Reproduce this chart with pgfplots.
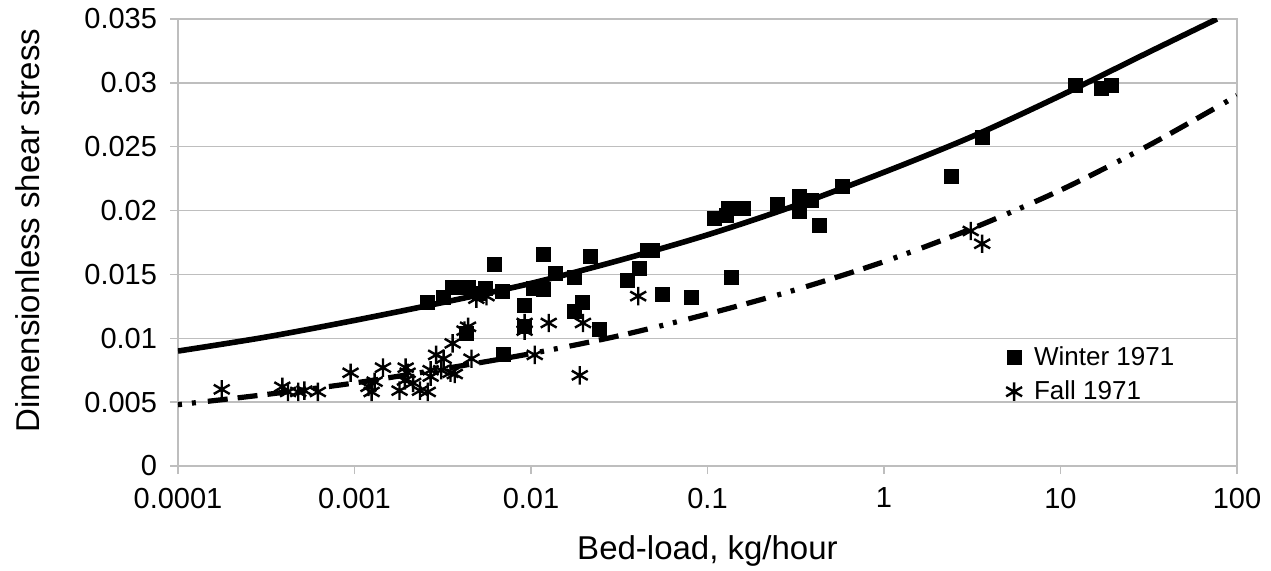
\documentclass[border=0pt]{standalone}
\usepackage{fontspec}
\setmainfont{Liberation Sans}
\usepackage{pgfplots}
\pgfplotsset{compat=1.18}
\definecolor{gridgray}{HTML}{BEBEBE}

\begin{document}
\begin{tikzpicture}
\begin{axis}[
    name=ax,
    scale only axis,
    width=529.5bp, height=223.5bp,
    xmode=log, xmin=1e-4, xmax=100,
    ymin=0, ymax=0.035,
    xtick={1e-4,1e-3,1e-2,1e-1,1,10,100},
    xticklabels={0.0001,0.001,0.01,0.1,1,10,100},
    xminorticks=false,
    ytick={0,0.005,0.01,0.015,0.02,0.025,0.03,0.035},
    yticklabels={0,0.005,0.01,0.015,0.02,0.025,0.03,0.035},
    scaled y ticks=false,
    xtick pos=lower, ytick pos=left,
    tick align=outside, major tick length=4bp,
    ymajorgrids,
    grid style={gridgray, line width=0.7bp},
    axis line style={gridgray, line width=0.7bp},
    tick style={gridgray, line width=0.7bp},
    tick label style={font=\fontsize{14.5bp}{17bp}\selectfont},
    xticklabel style={yshift=-3.5bp},
    yticklabel style={xshift=-3bp},
    label style={font=\fontsize{16.5bp}{19bp}\selectfont},
    xlabel={Bed-load, kg/hour},
    ylabel={Dimensionless shear stress},
    xlabel style={at={(axis description cs:0.5,-0.19)}, anchor=center},
    ylabel style={at={(axis description cs:-0.1416,0.527)}, anchor=center},
    legend style={at={(0.776,0.285)}, anchor=north west, draw=none, fill=none,
        font=\fontsize{13bp}{16bp}\selectfont, row sep=2bp,
        /tikz/every odd column/.append style={column sep=4bp}},
    legend cell align=left,
]
% fitted curves
\addplot[black, line width=2.8bp, smooth, forget plot] coordinates {
  (1e-4,0.0090) (3.16e-4,0.0101) (1e-3,0.0114) (3.16e-3,0.0128)
  (1e-2,0.0143) (3.16e-2,0.0161) (1e-1,0.0181) (3.16e-1,0.0204)
  (1,0.0230) (3.16,0.0258) (10,0.0290) (31.6,0.0324) (77,0.0350)
};
\addplot[black, line width=2.6bp, smooth, line cap=butt, forget plot,
  dash pattern=on 2bp off 5bp on 2bp off 6bp on 10bp off 5bp on 10bp off 5bp on 10bp off 6bp] coordinates {
  (1e-4,0.0048) (3.16e-4,0.0056) (1e-3,0.0065) (3.16e-3,0.0076)
  (1e-2,0.0088) (3.16e-2,0.0102) (1e-1,0.0119) (3.16e-1,0.0138)
  (1,0.0160) (3.16,0.0186) (10,0.0216) (31.6,0.0251) (100,0.0290)
};
% Winter 1971
\addplot[only marks, mark=square*, mark size=3.5bp, black] coordinates {
  (0.0026,0.0128) (0.0032,0.0132) (0.0036,0.0140) (0.0041,0.0140)
  (0.0044,0.0140) (0.0043,0.0104) (0.0051,0.0135) (0.0055,0.0139)
  (0.0062,0.0158) (0.0069,0.0137) (0.0070,0.0087) (0.0092,0.0126)
  (0.0092,0.0109) (0.0103,0.0139) (0.0117,0.0138) (0.0118,0.0166)
  (0.0137,0.0151) (0.0177,0.0148) (0.0177,0.0121) (0.0196,0.0128)
  (0.0218,0.0164) (0.0245,0.0107) (0.035,0.0145) (0.0414,0.0155)
  (0.0459,0.0169) (0.049,0.0169) (0.0555,0.0134) (0.0815,0.0132)
  (0.110,0.0194) (0.128,0.0196) (0.131,0.0202) (0.137,0.0148)
  (0.159,0.0202) (0.25,0.0205) (0.33,0.0211) (0.33,0.0199)
  (0.39,0.0208) (0.43,0.0188) (0.58,0.0219) (2.40,0.0227)
  (3.6,0.0257) (12.2,0.0298) (17.0,0.0296) (19.5,0.0298)
};
% Fall 1971
\addplot[only marks, mark=asterisk, mark size=4.6bp, black, mark options={line width=1.2bp}] coordinates {
  (1.77e-4,0.0060) (3.9e-4,0.0062) (4.2e-4,0.0058) (4.8e-4,0.0058)
  (5.2e-4,0.0059) (6.2e-4,0.0058) (9.5e-4,0.0073) (1.2e-3,0.0062)
  (1.25e-3,0.0058) (1.3e-3,0.0066) (1.45e-3,0.0077) (1.8e-3,0.0059)
  (1.95e-3,0.0077) (2.0e-3,0.0073) (1.93e-3,0.0067) (2.15e-3,0.0065)
  (2.35e-3,0.0059) (2.6e-3,0.0058) (2.7e-3,0.0075) (2.7e-3,0.0070)
  (2.9e-3,0.0087) (3.2e-3,0.0084) (3.1e-3,0.0075) (3.5e-3,0.0073)
  (3.7e-3,0.0072) (3.6e-3,0.0096) (4.2e-3,0.0106) (4.4e-3,0.0109)
  (4.6e-3,0.0084) (4.9e-3,0.0131) (5.6e-3,0.0133) (9.2e-3,0.0112)
  (9.2e-3,0.0106) (0.0105,0.0087) (0.0126,0.0112) (0.0197,0.0112)
  (0.0189,0.0071) (0.0405,0.0133) (3.1,0.0184) (3.6,0.0174)
};
\legend{Winter 1971, Fall 1971}
\end{axis}
\pgfresetboundingbox
\path[use as bounding box] (ax.south west) ++(-89bp,-52.5bp) rectangle ++(635.5bp,285.5bp);
\end{tikzpicture}
\end{document}
